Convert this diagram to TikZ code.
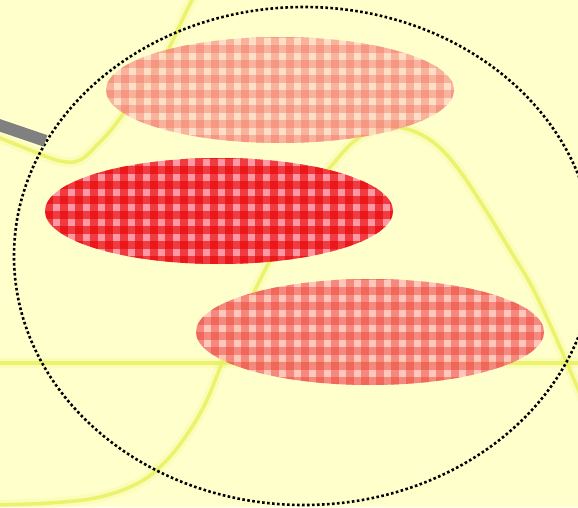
\documentclass[tikz,border=0pt]{standalone}
\usepackage{tikz}
\usetikzlibrary{shapes.geometric,positioning}
\definecolor{paper}{RGB}{255,255,204}
\definecolor{wave}{RGB}{232,240,90}
\definecolor{barcol}{RGB}{128,128,128}
\definecolor{paleA}{RGB}{255,214,200}
\definecolor{paleB}{RGB}{240,112,92}
\definecolor{hotA}{RGB}{255,152,164}
\definecolor{hotB}{RGB}{230,0,0}
\definecolor{midA}{RGB}{255,190,186}
\definecolor{midB}{RGB}{236,62,52}
\tikzset{
  glow/.style={draw=wave, line width=10pt, opacity=0.18, line cap=round},
  trace/.style={draw=wave, line width=3.5pt, opacity=0.8, line cap=round},
  blob/.style n args={4}{
    ellipse, inner sep=0pt, minimum width=348pt, minimum height=106pt,
    fill=#1, fill opacity=#4,
    path picture={
      \foreach \k in {0,...,24}{
        \fill[#2, fill opacity=#3] ([xshift=\k*15pt]path picture bounding box.south west)
          rectangle ++(8pt,120pt);
      }
      \foreach \k in {0,...,8}{
        \fill[#2, fill opacity=#3] ([yshift=\k*15pt]path picture bounding box.south west)
          rectangle ++(360pt,8pt);
      }
    }
  },
  ring/.style={
    ellipse, draw=black, inner sep=0pt, minimum width=580pt, minimum height=498pt,
    line width=2.6pt, dash pattern=on 2.6pt off 2.4pt
  },
  bar/.style={draw=barcol, line width=12pt},
}

\begin{document}
\begin{tikzpicture}[x=1pt, y=-1pt]
  \useasboundingbox (0,0) rectangle (578,507);
  \clip (0,0) rectangle (578,507);
  \fill[paper] (0,0) rectangle (578,507);
  % waves
  \foreach \s in {glow,trace}{
    \draw[\s] plot[smooth, tension=0.6] coordinates {(-5,505) (50,503) (100,497) (140,482)
      (167,460) (190,430) (207,400) (222,363) (240,322) (260,280) (285,232) (310,192)
      (333,164) (352,143) (372,131) (395,127) (418,133) (440,148) (462,174) (490,217)
      (510,250) (530,283) (548,320) (560,347) (572,375) (585,405)};
    \draw[\s] plot[smooth, tension=0.6] coordinates {(-5,136) (30,150) (60,161) (80,160)
      (100,142) (115,125) (133,100) (150,78) (167,52) (187,10) (195,-5)};
    \draw[\s] (-5,363) -- (585,363);
  }
  % blobs
  \node[blob={paleA}{paleB}{0.4}{0.8}] (upper) at (280,90) {};
  \node[blob={hotA}{hotB}{0.6}{1}] (middle) at (219,211) {};
  \node[blob={midA}{midB}{0.45}{0.85}] (lower) at (370,332) {};
  % frame
  \node[ring] (view) at (304,256) {};
  \coordinate (stub) at (-10,122);
  \draw[bar] (stub) -- (view.156.4);
\end{tikzpicture}
\end{document}
